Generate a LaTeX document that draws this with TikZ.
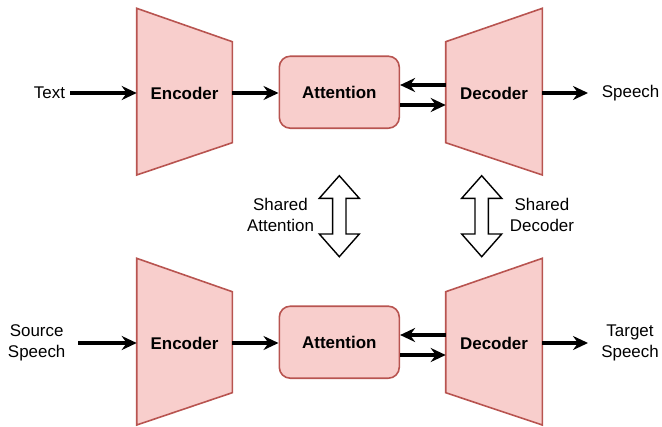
\documentclass[tikz,border=0pt]{standalone}
\usepackage{fontspec}
\setmainfont{Liberation Sans}
\usetikzlibrary{arrows.meta}
\definecolor{boxfill}{HTML}{F8CECC}
\definecolor{boxline}{HTML}{B85450}
\tikzset{
  shapebox/.style={fill=boxfill, draw=boxline, line width=1.6bp, line join=miter},
  boldlbl/.style={font=\bfseries\fontsize{17}{21}\selectfont, inner sep=0},
  attbox/.style={shapebox, rounded corners=11bp, minimum width=120bp, minimum height=72bp, inner sep=0, font=\bfseries\fontsize{17}{21}\selectfont},
  lbl/.style={font=\fontsize{17}{21}\selectfont, align=center, inner sep=0},
  conn/.style={line width=3.1bp, arrows={-Stealth[length=15bp,width=14bp,inset=5bp]}},
  dbl/.style={fill=white, draw=black, line width=1.4bp, line join=miter}
}
\begin{document}
\begin{tikzpicture}[x=1bp,y=-1bp]
\useasboundingbox (0,0) rectangle (662,426);
\foreach \o/\n in {0/a,250/b} {
  \begin{scope}[shift={(0,\o)}]
    % encoder
    \draw[shapebox] (136.7,8.3) -- (232.3,41.7) -- (232.3,142.7) -- (136.7,175) -- cycle;
    \node[boldlbl] (enc\n) at (184.5,93) {Encoder};
    \coordinate (encW\n) at (136.7,93);
    \coordinate (encE\n) at (232.3,93);
    % attention
    \node[attbox] (att\n) at (339.3,92.2) {Attention};
    % decoder
    \draw[shapebox] (445.7,41.7) -- (542.3,8.3) -- (542.3,175) -- (445.7,142.7) -- cycle;
    \node[boldlbl] (dec\n) at (494,93) {Decoder};
    \coordinate (decU\n) at (445.7,85);
    \coordinate (decL\n) at (445.7,105);
    \coordinate (decE\n) at (542.3,93);
    \coordinate (out\n) at (588,93);
    % connectors
    \draw[conn] (encE\n) -- (att\n.west |- encE\n);
    \draw[conn] (decU\n) -- (att\n.east |- decU\n);
    \draw[conn] (att\n.east |- decL\n) -- (decL\n);
    \draw[conn] (decE\n) -- (out\n);
  \end{scope}
}
% inputs / outputs
\node[lbl] (txt) at (49.5,93) {Text};
\coordinate (txtE) at (70,93);
\draw[conn] (txtE) -- (encWa);
\node[lbl, anchor=west] (spc) at (601.7,93) {Speech};

\node[lbl] (src) at (36.7,343) {Source\\Speech};
\coordinate (srcE) at (78,343);
\draw[conn] (srcE) -- (encWb);
\node[lbl] (tgt) at (630,343) {Target\\Speech};

% shared double arrows
\foreach \cx/\nm in {339.3/sa,481.7/sd} {
  \draw[dbl] (\cx,175.7) -- (\cx+20,198.3) -- (\cx+6.7,198.3) -- (\cx+6.7,234)
    -- (\cx+20,234) -- (\cx,256.7) -- (\cx-20,234) -- (\cx-6.7,234)
    -- (\cx-6.7,198.3) -- (\cx-20,198.3) -- cycle;
}
\node[lbl] (sharedatt) at (280.5,215) {Shared\\Attention};
\node[lbl] (shareddec) at (542,215) {Shared\\Decoder};
\end{tikzpicture}
\end{document}
